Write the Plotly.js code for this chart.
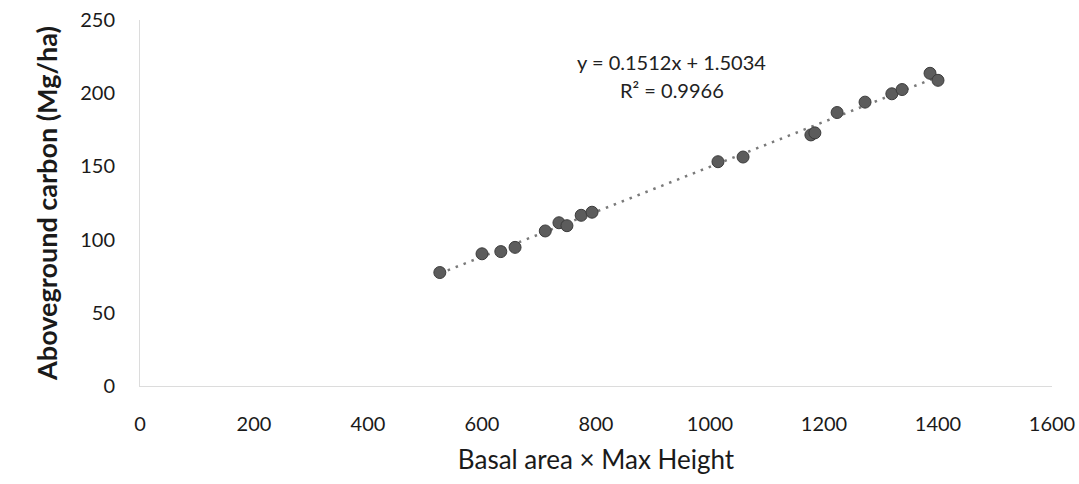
<!DOCTYPE html>
<html>
<head>
<meta charset="utf-8">
<script src="https://cdn.plot.ly/plotly-3.0.1.min.js"></script>
<style>html,body{margin:0;padding:0;background:#fff;}#chart{width:1079px;height:484px;}</style>
</head>
<body>
<div id="chart"></div>
<script>
// Data
const basalXHeight = [526, 600, 633, 658, 711, 735, 749, 774, 793, 1014, 1058, 1177, 1184, 1223, 1272, 1319, 1337, 1386, 1400];
const agCarbon     = [77.5, 90.3, 91.8, 94.7, 105.9, 111.5, 109.5, 116.6, 118.7, 153.2, 156.4, 171.5, 172.9, 186.8, 193.9, 199.6, 202.5, 213.6, 208.8];
const xTicks = [0, 200, 400, 600, 800, 1000, 1200, 1400, 1600];
const yTicks = [0, 50, 100, 150, 200, 250];
const eqText = "y = 0.1512x + 1.5034";
const r2Text = "R² = 0.9966";

// Least-squares trendline through the data
const n = basalXHeight.length;
const mx = basalXHeight.reduce((a, b) => a + b, 0) / n;
const my = agCarbon.reduce((a, b) => a + b, 0) / n;
let sxy = 0, sxx = 0;
for (let i = 0; i < n; i++) {
  sxy += (basalXHeight[i] - mx) * (agCarbon[i] - my);
  sxx += (basalXHeight[i] - mx) ** 2;
}
const slope = sxy / sxx, icpt = my - slope * mx;
const xMin = Math.min(...basalXHeight), xMax = Math.max(...basalXHeight);
const trendX = [xMin, xMax];
const trendY = trendX.map(v => slope * v + icpt);

const traces = [
  {
    x: trendX, y: trendY, type: 'scatter', mode: 'lines',
    line: {color: '#7a7a7a', width: 2.5, dash: '2.5px,6px'},
    hoverinfo: 'skip', showlegend: false
  },
  {
    x: basalXHeight, y: agCarbon, type: 'scatter', mode: 'markers',
    marker: {size: 12, color: '#5c5c5c', line: {color: '#3c3c3c', width: 1}},
    showlegend: false
  }
];

const tickFont = {family: 'Lato, "Open Sans", sans-serif', size: 20, color: '#1a1a1a'};

const layout = {
  width: 1079, height: 484,
  margin: {l: 140, r: 27, t: 20, b: 98},
  paper_bgcolor: '#ffffff', plot_bgcolor: '#ffffff',
  showlegend: false,
  xaxis: {
    range: [0, 1600], tickvals: xTicks, ticktext: xTicks.map(String),
    showgrid: false, zeroline: false, showline: true, linecolor: '#dcdcdc', linewidth: 1,
    ticks: '', tickfont: tickFont, ticklabelstandoff: 20,
    title: {text: 'Basal area × Max Height', standoff: 16,
            font: {family: 'Lato, "Open Sans", sans-serif', size: 26, color: '#1a1a1a'}}
  },
  yaxis: {
    range: [0, 250], tickvals: yTicks, ticktext: yTicks.map(String),
    showgrid: false, zeroline: false, showline: true, linecolor: '#dcdcdc', linewidth: 1,
    ticks: '', tickfont: tickFont, ticklabelstandoff: 20,
    title: {text: '<b>Aboveground carbon (Mg/ha)</b>', standoff: 14,
            font: {family: 'Lato, "Open Sans", sans-serif', size: 27, color: '#1a1a1a'}}
  },
  annotations: [
    {x: 933, y: 221, xref: 'x', yref: 'y', text: eqText, showarrow: false,
     font: {family: 'Lato, "Open Sans", sans-serif', size: 20, color: '#222'}},
    {x: 933, y: 202, xref: 'x', yref: 'y', text: r2Text, showarrow: false,
     font: {family: 'Lato, "Open Sans", sans-serif', size: 20, color: '#222'}}
  ]
};

Plotly.newPlot('chart', traces, layout, {displayModeBar: false, staticPlot: true});
</script>
</body>
</html>
